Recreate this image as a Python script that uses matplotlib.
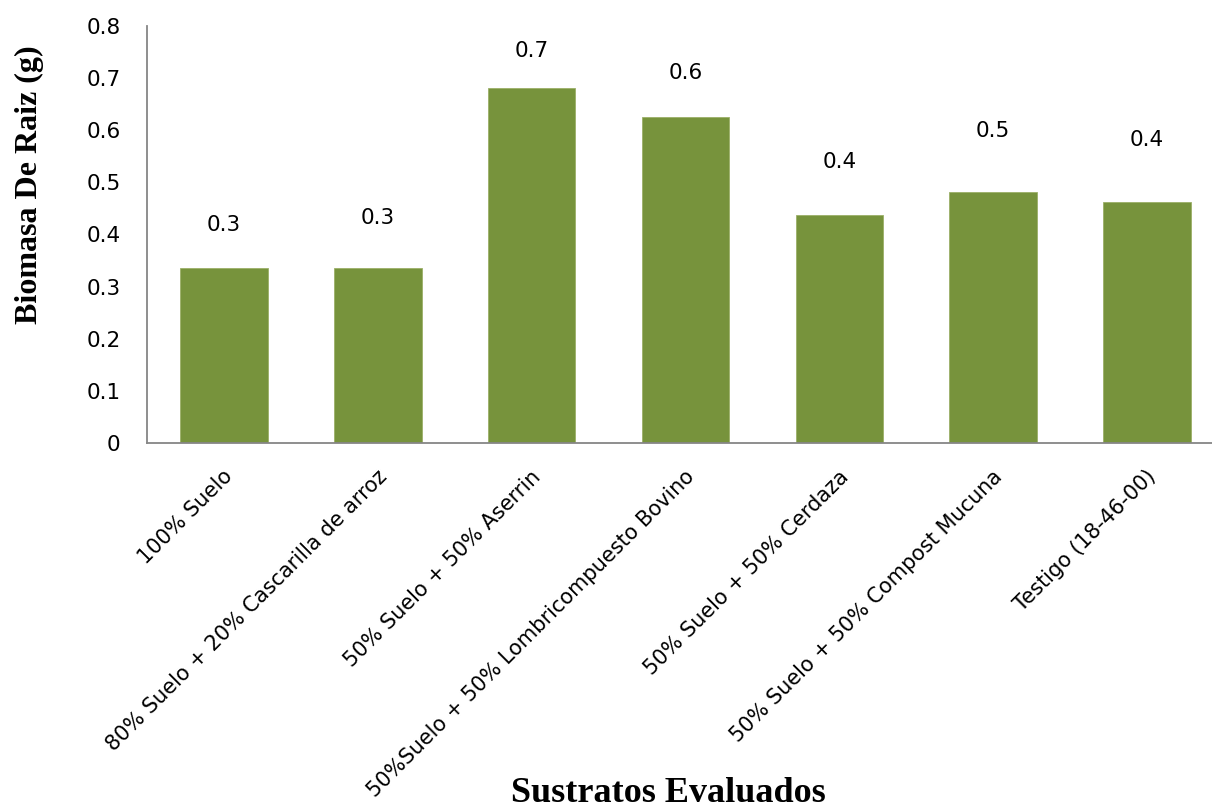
import numpy as np
import matplotlib
matplotlib.use("Agg")
import matplotlib.pyplot as plt
from matplotlib.transforms import ScaledTranslation

# data
sustratos = ["100% Suelo",
             "80% Suelo + 20% Cascarilla de arroz",
             "50% Suelo + 50% Aserrin",
             "50%Suelo + 50% Lombricompuesto Bovino",
             "50% Suelo + 50% Cerdaza",
             "50% Suelo + 50% Compost Mucuna",
             "Testigo (18-46-00)"]
biomasa = [0.336, 0.336, 0.681, 0.625, 0.437, 0.481, 0.462]
etiquetas = ["0.3", "0.3", "0.7", "0.6", "0.4", "0.5", "0.4"]

# style: how far each value label sits above its bar (pixels)
label_gap = [43, 50, 37, 44, 53, 61, 62]

W, H = 1212, 811
fig = plt.figure(figsize=(W / 100, H / 100), dpi=100)
ax = fig.add_axes([147 / W, 1 - 443 / H, 1077 / W, 417 / H])

x = np.arange(len(sustratos))
bars = ax.bar(x, biomasa, width=0.57, color="#77933C", edgecolor="#9BB068", linewidth=0.6, zorder=2)

for xi, v, txt, gap in zip(x, biomasa, etiquetas, label_gap):
    ax.annotate(txt, (xi, v), xytext=(0, gap), textcoords="offset pixels",
                ha="center", va="center", fontsize=15.5, family="DejaVu Sans")

ax.set_xlim(-0.5, 6.5)
ax.set_ylim(0, 0.8)
ax.set_yticks(np.arange(0, 0.81, 0.1))
ax.set_yticklabels(["0", "0.1", "0.2", "0.3", "0.4", "0.5", "0.6", "0.7", "0.8"])
ax.tick_params(axis="y", length=0, pad=19, labelsize=15.5)
ax.set_xticks(x)
ax.set_xticklabels(sustratos, rotation=45, ha="right", va="center",
                   rotation_mode="anchor", fontsize=15)
ax.tick_params(axis="x", length=0, pad=22)
shift = ScaledTranslation(6 / 100, 0, fig.dpi_scale_trans)
for lab in ax.get_xticklabels():
    lab.set_transform(lab.get_transform() + shift)

for s in ["top", "right"]:
    ax.spines[s].set_visible(False)
for s in ["left", "bottom"]:
    ax.spines[s].set_color("#868686")
    ax.spines[s].set_linewidth(1.3)

fig.text(29 / W, 1 - 185 / H, "Biomasa De Raiz (g)", rotation=90, ha="center", va="center",
         fontsize=23, fontweight="bold", family="Liberation Serif")
fig.text(668 / W, 1 / H, "Sustratos Evaluados", ha="center", va="bottom",
         fontsize=26, fontweight="bold", family="Liberation Serif")

fig.savefig("out.png", dpi=100)
